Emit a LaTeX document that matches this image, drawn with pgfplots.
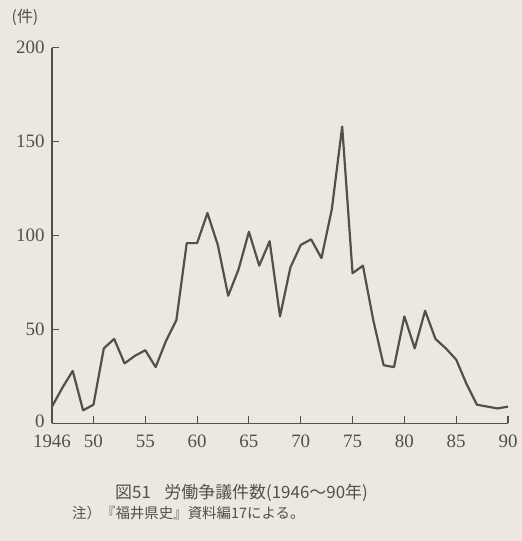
\documentclass[border=0pt]{standalone}
\usepackage{fontspec}
\setmainfont{Liberation Serif}
\newfontfamily\cjk{Noto Sans CJK JP}
\usepackage{pgfplots}
\pgfplotsset{compat=1.18}
\definecolor{bgcol}{RGB}{237,232,223}
\definecolor{inkcol}{RGB}{80,80,80}

\begin{document}
\begin{tikzpicture}[x=1bp,y=1bp]
% page background
\fill[bgcol] (-52,-117.5) rectangle (470,423.5);
\begin{axis}[
    at={(0,0)}, anchor=south west,
    scale only axis,
    width=456bp, height=375.8bp,
    xmin=1946, xmax=1990,
    ymin=0, ymax=200,
    axis x line=bottom, axis y line=left,
    axis line style={-, inkcol, line width=1.3bp},
    tick align=inside,
    major tick length=7bp,
    tick style={inkcol, line width=1.1bp},
    xtick={1946,1950,1955,1960,1965,1970,1975,1980,1985,1990},
    xticklabels={1946,50,55,60,65,70,75,80,85,90},
    ytick={0,50,100,150,200},
    yticklabels={\raisebox{5bp}{0},50,100,150,200},
    ticklabel style={font=\fontsize{19}{22}\selectfont, text=inkcol},
    xticklabel style={yshift=-8bp},
    yticklabel style={xshift=-4bp},
    clip=false,
]
\addplot[color=inkcol, line width=2.2bp, line join=round] coordinates {
    (1946, 9) (1947, 19) (1948, 28) (1949, 7) (1950, 10)
    (1951, 40) (1952, 45) (1953, 32) (1954, 36) (1955, 39)
    (1956, 30) (1957, 44) (1958, 55) (1959, 96) (1960, 96)
    (1961, 112) (1962, 95) (1963, 68) (1964, 82) (1965, 102)
    (1966, 84) (1967, 97) (1968, 57) (1969, 83) (1970, 95)
    (1971, 98) (1972, 88) (1973, 114) (1974, 158) (1975, 80)
    (1976, 84) (1977, 55) (1978, 31) (1979, 30) (1980, 57)
    (1981, 40) (1982, 60) (1983, 45) (1984, 40) (1985, 34)
    (1986, 21) (1987, 10) (1988, 9) (1989, 8) (1990, 9)
};
\end{axis}
\node[font=\cjk\fontsize{16}{19}\selectfont, text=inkcol] at (-27,406.5) {(件)};
\node[font=\cjk\fontsize{17}{20}\selectfont, text=inkcol, anchor=west, inner sep=0pt] at (63,-69.5)
    {図51\hspace{0.8em}労働争議件数(1946〜90年)};
\node[font=\cjk\fontsize{14.5}{17}\selectfont, text=inkcol, anchor=west, inner sep=0pt] at (20,-89.5)
    {注）『福井県史』資料編17による。};
\end{tikzpicture}
\end{document}
